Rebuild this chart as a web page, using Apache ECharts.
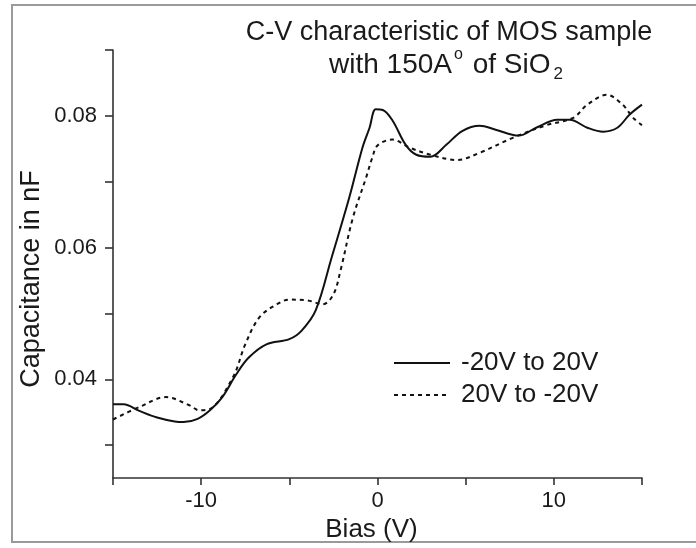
<!DOCTYPE html>
<html>
<head>
<meta charset="utf-8">
<script src="https://cdn.jsdelivr.net/npm/echarts@6/dist/echarts.min.js"></script>
<style>
html,body{margin:0;padding:0;background:#fff;}
#c{width:696px;height:548px;}
</style>
</head>
<body>
<div id="c"></div>
<script>
// Data
const seriesNames = ['-20V to 20V', '20V to -20V'];
const forwardSweep = [
  [-15, 0.0362], [-14.4, 0.0362], [-13.5, 0.0352], [-12.5, 0.0342], [-11.5, 0.0336], [-11.0, 0.0335],
  [-10.2, 0.0340], [-9.5, 0.0353], [-8.8, 0.0373], [-8.0, 0.0408], [-7.3, 0.0433], [-6.3, 0.0453],
  [-5.0, 0.0461], [-4.3, 0.0474], [-3.5, 0.0505], [-2.6, 0.0585], [-1.6, 0.0676], [-0.85, 0.0752],
  [-0.45, 0.0782], [-0.1, 0.0810], [0.3, 0.0809], [0.85, 0.0793], [1.6, 0.0756], [2.2, 0.0741],
  [3.0, 0.0738], [3.9, 0.0756], [4.8, 0.0777], [5.8, 0.0785], [6.7, 0.0779], [8.0, 0.0770],
  [9.0, 0.0782], [10.2, 0.0794], [10.9, 0.0794], [11.9, 0.0782], [12.8, 0.0776], [13.6, 0.0782],
  [14.3, 0.0802], [15, 0.0817]
];
const reverseSweep = [
  [-15, 0.0339], [-13.5, 0.0358], [-12.0, 0.0373], [-10.7, 0.0361], [-10.1, 0.0353], [-9.5, 0.0355],
  [-8.2, 0.0403], [-7.5, 0.0453], [-6.7, 0.0494], [-5.7, 0.0514], [-5.0, 0.0521], [-4.0, 0.0520],
  [-3.1, 0.0514], [-2.5, 0.0529], [-2.1, 0.0565], [-1.4, 0.0645], [-0.65, 0.0706], [-0.3, 0.0736],
  [0.0, 0.0755], [0.85, 0.0764], [1.8, 0.0752], [3.0, 0.0741], [4.5, 0.0733], [5.8, 0.0744],
  [7.7, 0.0767], [9.6, 0.0786], [11.1, 0.0797], [11.9, 0.0817], [13.0, 0.0832], [13.9, 0.0817],
  [14.5, 0.0797], [15, 0.0786]
];
const xTickValues = [-15, -10, -5, 0, 5, 10, 15];
const xLabelValues = [-10, 0, 10];
const yTickValues = [0.03, 0.04, 0.05, 0.06, 0.07, 0.08, 0.09];
const yLabelValues = [0.04, 0.06, 0.08];
const titleLine1 = 'C-V characteristic of MOS sample';
const xName = 'Bias (V)';
const yName = 'Capacitance in nF';

const FONT = '"Liberation Sans", Arial, sans-serif';
const INK = '#1a1a1a';
const chart = echarts.init(document.getElementById('c'), null, {renderer: 'canvas'});
chart.setOption({
  animation: false,
  backgroundColor: '#fff',
  grid: {left: 113, right: 54, top: 50, bottom: 67, containLabel: false},
  graphic: [
    {type: 'rect', shape: {x: 12, y: 5, width: 700, height: 537},
     style: {fill: 'none', stroke: '#9a9a9a', lineWidth: 2}, z: -1},
    {type: 'text', x: 449, y: 33,
     style: {text: titleLine1, fill: INK, font: '27px ' + FONT, textAlign: 'center', textVerticalAlign: 'middle'}},
    {type: 'text', x: 446, y: 65,
     style: {text: 'with 150A{sup|o} of SiO{sub|2}', fill: INK, font: '28px ' + FONT,
       textAlign: 'center', textVerticalAlign: 'middle',
       rich: {
         sup: {fontSize: 16, fontFamily: FONT, fill: INK, verticalAlign: 'top', padding: [0, 2, 20, 2]},
         sub: {fontSize: 17, fontFamily: FONT, fill: INK, verticalAlign: 'bottom', padding: [18, 0, 0, 3]}
       }}},
    {type: 'text', x: 32, y: 279, rotation: Math.PI / 2,
     style: {text: yName, fill: INK, font: '27px ' + FONT, textAlign: 'center', textVerticalAlign: 'middle'}}
  ],
  legend: {
    orient: 'vertical', left: 393, top: 350, padding: 0, itemWidth: 56, itemHeight: 14, itemGap: 6,
    itemStyle: {opacity: 0},
    textStyle: {fontSize: 26, fontFamily: FONT, color: INK, padding: [0, 0, 0, 6]},
    data: seriesNames
  },
  xAxis: {
    type: 'value', min: -15, max: 15, interval: 5,
    name: xName, nameLocation: 'middle', nameGap: 23,
    nameTextStyle: {fontSize: 26, fontFamily: FONT, color: INK, padding: [0, 12, 0, 0]},
    axisLine: {onZero: false, lineStyle: {color: '#333', width: 1.6}},
    axisTick: {show: true, inside: false, length: 7, lineStyle: {color: '#333', width: 1.6}, customValues: xTickValues},
    axisLabel: {fontSize: 22, fontFamily: FONT, color: INK, margin: 12, customValues: xLabelValues},
    splitLine: {show: false}
  },
  yAxis: {
    type: 'value', min: 0.025, max: 0.09,
    axisLine: {onZero: false, lineStyle: {color: '#333', width: 1.6}},
    axisTick: {show: true, inside: false, length: 8, lineStyle: {color: '#333', width: 1.6}, customValues: yTickValues},
    axisLabel: {fontSize: 22, fontFamily: FONT, color: INK, margin: 16, customValues: yLabelValues,
      formatter: v => v.toFixed(2)},
    splitLine: {show: false}
  },
  series: [
    {name: seriesNames[0], type: 'line', data: forwardSweep, smooth: 0.35, symbol: 'none',
     lineStyle: {color: '#111', width: 2}, itemStyle: {color: '#111'}},
    {name: seriesNames[1], type: 'line', data: reverseSweep, smooth: 0.35, symbol: 'none',
     lineStyle: {color: '#111', width: 2, type: [4, 4]}, itemStyle: {color: '#111'}}
  ]
});
</script>
</body>
</html>
